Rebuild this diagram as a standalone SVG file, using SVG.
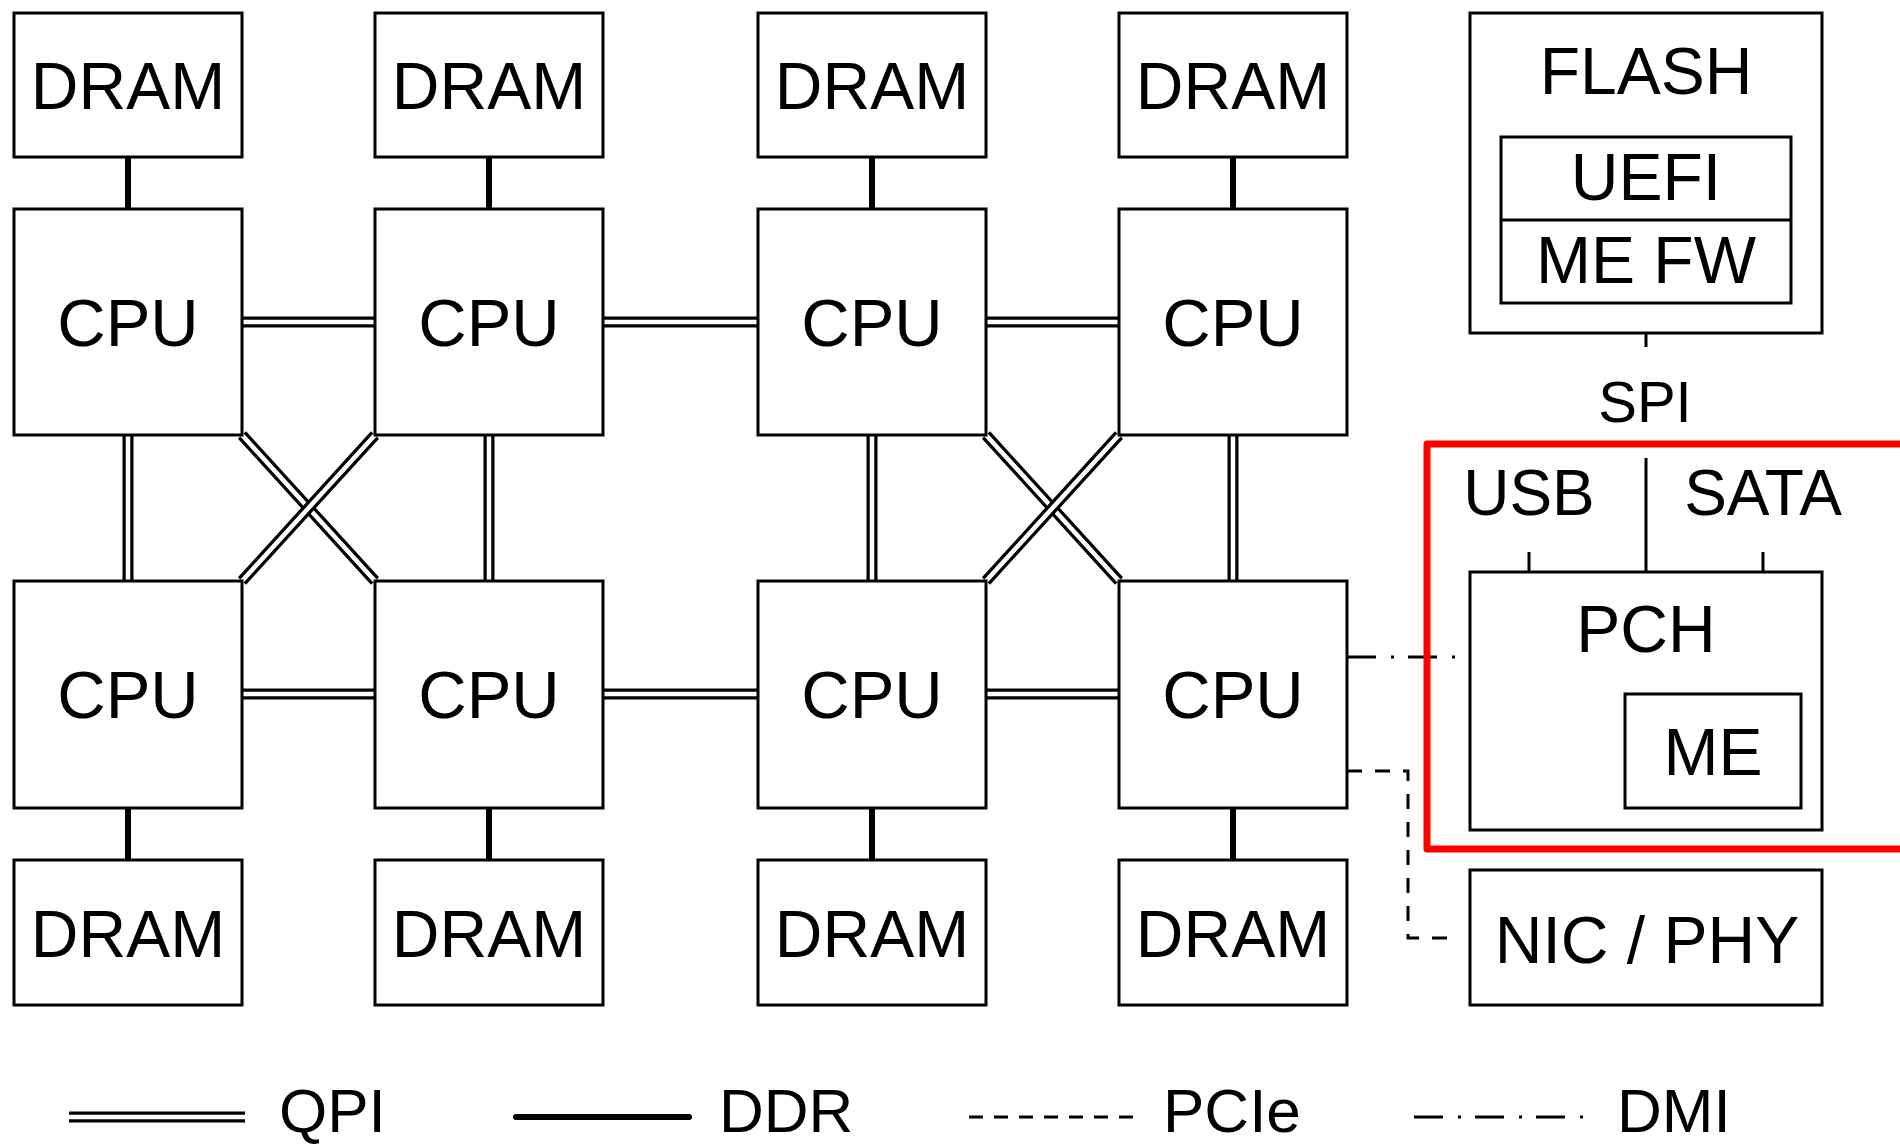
<svg xmlns="http://www.w3.org/2000/svg" width="1900" height="1145" viewBox="0 0 1900 1145">
<style>
  .box { fill: #ffffff; stroke: #000000; stroke-width: 3; }
  .inner { fill: none; stroke: #000000; stroke-width: 3; }
  .lbl { font-family: "Liberation Sans", Arial, Helvetica, sans-serif; font-size: 66px; fill: #000000; text-anchor: middle; }
  .leg { font-family: "Liberation Sans", Arial, Helvetica, sans-serif; font-size: 62px; fill: #000000; }
  .qpiO { stroke: #000000; stroke-width: 11; fill: none; }
  .qpiI { stroke: #ffffff; stroke-width: 4.5; fill: none; }
  .ddr { stroke: #000000; stroke-width: 6; fill: none; }
  .pcie { stroke: #000000; stroke-width: 3; fill: none; stroke-dasharray: 15 13; }
  .dmi { stroke: #000000; stroke-width: 3; fill: none; stroke-dasharray: 29 15 3 14; }
  .thin { stroke: #000000; stroke-width: 3; fill: none; }
</style>

<g id="connectors">
  <!-- DDR links -->
  <path class="ddr" d="M128 157 V209 M489 157 V209 M872 157 V209 M1233 157 V209"/>
  <path class="ddr" d="M128 808 V860 M489 808 V860 M872 808 V860 M1233 808 V860"/>
  <!-- QPI horizontal -->
  <path class="qpiO" d="M242 322 H375 M603 322 H758 M986 322 H1119 M242 694 H375 M603 694 H758 M986 694 H1119"/>
  <path class="qpiI" d="M242 322 H375 M603 322 H758 M986 322 H1119 M242 694 H375 M603 694 H758 M986 694 H1119"/>
  <!-- QPI vertical -->
  <path class="qpiO" d="M128 435 V581 M489 435 V581 M872 435 V581 M1233 435 V581"/>
  <path class="qpiI" d="M128 435 V581 M489 435 V581 M872 435 V581 M1233 435 V581"/>
  <!-- QPI diagonals -->
  <path class="qpiO" d="M242 435 L375 581 M986 435 L1119 581"/>
  <path class="qpiI" d="M242 435 L375 581 M986 435 L1119 581"/>
  <path class="qpiO" d="M242 581 L375 435 M986 581 L1119 435"/>
  <path class="qpiI" d="M242 581 L375 435 M986 581 L1119 435"/>
  <!-- DMI -->
  <path class="dmi" d="M1347 657 H1458"/>
  <!-- PCIe -->
  <path class="pcie" d="M1347 771 H1408 V938 H1458"/>
  <!-- SPI / USB / SATA -->
  <path class="thin" d="M1646 333 V347"/>
  <path class="thin" d="M1646 458 V572"/>
  <path class="thin" d="M1529 552 V572 M1763 552 V572"/>
</g>

<g id="dram-t1"><rect class="box" x="14" y="13" width="228" height="144"/><text class="lbl" x="128" y="109">DRAM</text></g>
<g id="dram-t2"><rect class="box" x="375" y="13" width="228" height="144"/><text class="lbl" x="489" y="109">DRAM</text></g>
<g id="dram-t3"><rect class="box" x="758" y="13" width="228" height="144"/><text class="lbl" x="872" y="109">DRAM</text></g>
<g id="dram-t4"><rect class="box" x="1119" y="13" width="228" height="144"/><text class="lbl" x="1233" y="109">DRAM</text></g>

<g id="cpu-t1"><rect class="box" x="14" y="209" width="228" height="226"/><text class="lbl" x="128" y="346" style="font-size:67px">CPU</text></g>
<g id="cpu-t2"><rect class="box" x="375" y="209" width="228" height="226"/><text class="lbl" x="489" y="346" style="font-size:67px">CPU</text></g>
<g id="cpu-t3"><rect class="box" x="758" y="209" width="228" height="226"/><text class="lbl" x="872" y="346" style="font-size:67px">CPU</text></g>
<g id="cpu-t4"><rect class="box" x="1119" y="209" width="228" height="226"/><text class="lbl" x="1233" y="346" style="font-size:67px">CPU</text></g>

<g id="cpu-b1"><rect class="box" x="14" y="581" width="228" height="227"/><text class="lbl" x="128" y="718" style="font-size:67px">CPU</text></g>
<g id="cpu-b2"><rect class="box" x="375" y="581" width="228" height="227"/><text class="lbl" x="489" y="718" style="font-size:67px">CPU</text></g>
<g id="cpu-b3"><rect class="box" x="758" y="581" width="228" height="227"/><text class="lbl" x="872" y="718" style="font-size:67px">CPU</text></g>
<g id="cpu-b4"><rect class="box" x="1119" y="581" width="228" height="227"/><text class="lbl" x="1233" y="718" style="font-size:67px">CPU</text></g>

<g id="dram-b1"><rect class="box" x="14" y="860" width="228" height="145"/><text class="lbl" x="128" y="957">DRAM</text></g>
<g id="dram-b2"><rect class="box" x="375" y="860" width="228" height="145"/><text class="lbl" x="489" y="957">DRAM</text></g>
<g id="dram-b3"><rect class="box" x="758" y="860" width="228" height="145"/><text class="lbl" x="872" y="957">DRAM</text></g>
<g id="dram-b4"><rect class="box" x="1119" y="860" width="228" height="145"/><text class="lbl" x="1233" y="957">DRAM</text></g>

<g id="flash">
  <rect class="box" x="1470" y="13" width="352" height="320"/>
  <text class="lbl" x="1646" y="94">FLASH</text>
  <rect class="inner" x="1501" y="137" width="290" height="166"/>
  <path class="thin" d="M1501 220 H1791"/>
  <text class="lbl" x="1646" y="200">UEFI</text>
  <text class="lbl" x="1646" y="283">ME FW</text>
</g>

<g id="spi-label"><text class="lbl" x="1645" y="422" style="font-size:58px">SPI</text></g>
<g id="usb-label"><text class="lbl" x="1529" y="515" style="font-size:64px">USB</text></g>
<g id="sata-label"><text class="lbl" x="1763" y="515" style="font-size:64px">SATA</text></g>

<g id="pch">
  <rect class="box" x="1470" y="572" width="352" height="258"/>
  <text class="lbl" x="1646" y="652">PCH</text>
</g>
<g id="me">
  <rect class="box" x="1625" y="694" width="176" height="114"/>
  <text class="lbl" x="1713" y="775">ME</text>
</g>
<g id="nic">
  <rect class="box" x="1470" y="870" width="352" height="135"/>
  <text class="lbl" x="1647" y="963">NIC / PHY</text>
</g>

<g id="highlight">
  <rect x="1427" y="444" width="500" height="405" fill="none" stroke="#ff0000" stroke-width="7" stroke-linejoin="round"/>
</g>

<g id="legend">
  <path class="qpiO" d="M69 1117 H245"/>
  <path class="qpiI" d="M69 1117 H245"/>
  <text class="leg" x="279" y="1132">QPI</text>
  <path d="M516 1117 H689" stroke="#000" stroke-width="6" stroke-linecap="round"/>
  <text class="leg" x="719" y="1132">DDR</text>
  <path d="M969 1117 H1133" stroke="#000" stroke-width="3" stroke-dasharray="14 11"/>
  <text class="leg" x="1163" y="1132">PCIe</text>
  <path d="M1414 1117 H1584" stroke="#000" stroke-width="3" stroke-dasharray="29 15 3 14"/>
  <text class="leg" x="1617" y="1132">DMI</text>
</g>
</svg>
